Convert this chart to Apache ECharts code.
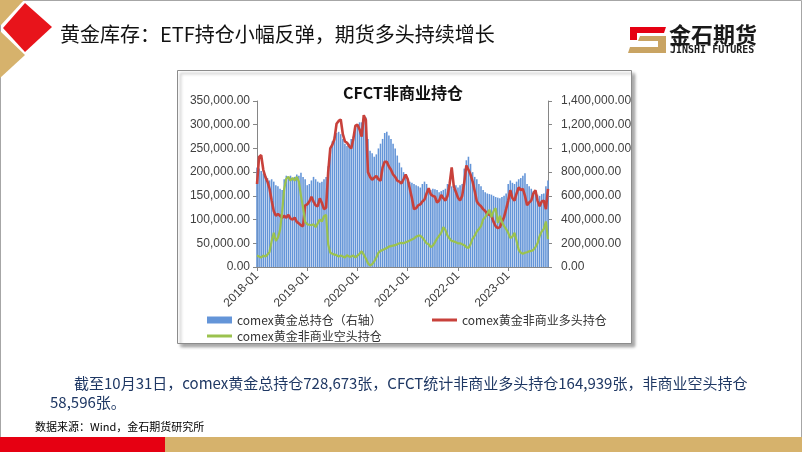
<!DOCTYPE html>
<html>
<head>
<meta charset="utf-8">
<script src="https://cdn.jsdelivr.net/npm/echarts@6/dist/echarts.min.js"></script>
<style>
html, body { margin: 0; padding: 0; background: #fff; }
#main { width: 802px; height: 452px; }
</style>
</head>
<body>
<div id="main"></div>
<script>
// 半月频数据，2018-01 至 2023-10
const dates = [];
for (let y = 2018; y <= 2023; y++) {
	for (let m = 1; m <= 12; m++) {
		if (y === 2023 && m > 10) break;
		const mm = String(m).padStart(2, '0');
		dates.push(y + '-' + mm + '-01', y + '-' + mm + '-16');
	}
}
const yearTicks = ['2018-01', '2019-01', '2020-01', '2021-01', '2022-01', '2023-01'];

// comex黄金总持仓（右轴）
const totalOI = [
	840000, 830000, 810000, 790000, 770000, 750000, 730000, 740000, 720000, 690000,
	680000, 660000, 650000, 740000, 770000, 760000, 770000, 750000, 760000, 780000,
	770000, 795000, 760000, 740000, 690000, 700000, 730000, 760000, 740000, 720000,
	710000, 720000, 740000, 760000, 850000, 990000, 1060000, 1100000, 1130000, 1140000,
	1120000, 1080000, 1040000, 1020000, 1040000, 1080000, 1100000, 1170000, 1200000, 1220000,
	1220000, 1240000, 1260000, 1080000, 980000, 960000, 930000, 950000, 1000000, 1040000,
	1080000, 1130000, 1140000, 1110000, 1080000, 1040000, 1000000, 940000, 880000, 840000,
	800000, 770000, 740000, 720000, 710000, 700000, 690000, 680000, 670000, 700000,
	720000, 700000, 660000, 650000, 660000, 655000, 650000, 630000, 640000, 650000,
	660000, 700000, 690000, 680000, 660000, 690000, 670000, 690000, 700000, 830000,
	900000, 930000, 870000, 800000, 760000, 740000, 700000, 680000, 650000, 630000,
	620000, 615000, 610000, 600000, 590000, 585000, 580000, 590000, 600000, 620000,
	700000, 730000, 710000, 700000, 720000, 740000, 750000, 770000, 790000, 700000,
	680000, 660000, 640000, 620000, 610000, 600000, 615000, 620000, 680000, 728673
];

// comex黄金非商业多头持仓
const longPos = [
	175000, 232000, 236000, 205000, 190000, 180000, 165000, 140000, 118000, 108000,
	112000, 108000, 104000, 108000, 104000, 110000, 102000, 100000, 104000, 95000,
	92000, 88000, 86000, 130000, 132000, 138000, 148000, 138000, 130000, 128000,
	145000, 135000, 122000, 125000, 200000, 250000, 258000, 270000, 302000, 308000,
	311000, 280000, 265000, 262000, 255000, 250000, 270000, 298000, 300000, 290000,
	275000, 320000, 310000, 200000, 190000, 184000, 188000, 192000, 185000, 182000,
	210000, 222000, 222000, 212000, 205000, 195000, 190000, 182000, 180000, 176000,
	185000, 195000, 185000, 165000, 145000, 122000, 124000, 130000, 132000, 138000,
	142000, 155000, 166000, 153000, 150000, 148000, 136000, 140000, 152000, 145000,
	140000, 150000, 175000, 210000, 170000, 158000, 146000, 140000, 150000, 178000,
	214000, 205000, 195000, 180000, 160000, 138000, 132000, 128000, 122000, 118000,
	112000, 110000, 108000, 95000, 86000, 82000, 84000, 95000, 105000, 122000,
	140000, 162000, 145000, 140000, 155000, 168000, 162000, 165000, 150000, 130000,
	136000, 140000, 155000, 162000, 140000, 128000, 138000, 140000, 122000, 164939
];

// comex黄金非商业空头持仓
const shortPos = [
	24000, 22000, 20000, 24000, 22000, 26000, 32000, 55000, 72000, 55000,
	62000, 78000, 115000, 165000, 186000, 190000, 182000, 188000, 182000, 190000,
	180000, 150000, 125000, 95000, 90000, 89000, 88000, 90000, 84000, 92000,
	100000, 96000, 107000, 110000, 48000, 30000, 28000, 26000, 25000, 22000,
	24000, 22000, 20000, 25000, 22000, 22000, 24000, 20000, 24000, 28000,
	33000, 26000, 18000, 8000, 3000, 6000, 12000, 20000, 30000, 34000,
	36000, 38000, 40000, 43000, 44000, 45000, 46000, 48000, 50000, 51000,
	50000, 52000, 54000, 56000, 58000, 60000, 64000, 66000, 66000, 62000,
	56000, 50000, 48000, 42000, 45000, 52000, 60000, 66000, 72000, 84000,
	78000, 66000, 60000, 55000, 54000, 52000, 50000, 50000, 48000, 46000,
	42000, 40000, 48000, 60000, 66000, 75000, 80000, 86000, 100000, 105000,
	112000, 121000, 105000, 118000, 124000, 93000, 108000, 95000, 86000, 80000,
	72000, 61000, 64000, 72000, 55000, 36000, 30000, 28000, 30000, 31000,
	33000, 34000, 36000, 42000, 50000, 65000, 75000, 80000, 96000, 58596
];

const cjk = "'Noto Sans CJK SC', sans-serif";
const numFont = "'Liberation Sans', Arial, sans-serif";
const tan = '#D6B26C';

function fmtNum(v) {
	return v.toLocaleString('en-US', { minimumFractionDigits: 2, maximumFractionDigits: 2 });
}
function isYearStart(idx, val) {
	return yearTicks.indexOf(val.slice(0, 7)) >= 0 && val.slice(8) === '01';
}

const myChart = echarts.init(document.getElementById('main'));

const option = {
	animation: false,
	backgroundColor: '#fff',
	grid: { left: 257, right: 254, top: 101, bottom: 185 },
	legend: [
		{
			data: ['comex黄金总持仓（右轴）'],
			left: 207, top: 314, padding: 0,
			icon: 'rect', itemWidth: 25, itemHeight: 7,
			selectedMode: false,
			textStyle: { fontFamily: cjk, fontSize: 12, color: '#333' },
		},
		{
			data: ['comex黄金非商业多头持仓'],
			left: 432, top: 314, padding: 0,
			icon: 'rect', itemWidth: 25, itemHeight: 3,
			selectedMode: false,
			textStyle: { fontFamily: cjk, fontSize: 12, color: '#333' },
		},
		{
			data: ['comex黄金非商业空头持仓'],
			left: 207, top: 330, padding: 0,
			icon: 'rect', itemWidth: 25, itemHeight: 3,
			selectedMode: false,
			textStyle: { fontFamily: cjk, fontSize: 12, color: '#333' },
		},
	],
	xAxis: {
		type: 'category',
		data: dates,
		boundaryGap: false,
		axisLine: { lineStyle: { color: '#868686' } },
		axisTick: { interval: isYearStart, length: 4, lineStyle: { color: '#868686' } },
		axisLabel: {
			interval: isYearStart,
			rotate: 45,
			margin: 7,
			fontFamily: numFont,
			fontSize: 12,
			color: '#404040',
			formatter: (val) => val.slice(0, 7),
		},
		splitLine: { show: false },
	},
	yAxis: [
		{
			type: 'value',
			min: 0, max: 350000, interval: 50000,
			axisLine: { show: true, lineStyle: { color: '#868686' } },
			axisTick: { show: true, length: 4, lineStyle: { color: '#868686' } },
			axisLabel: { margin: 7, fontFamily: numFont, fontSize: 12, color: '#404040', formatter: fmtNum },
			splitLine: { show: false },
		},
		{
			type: 'value',
			min: 0, max: 1400000, interval: 200000,
			axisLine: { show: true, lineStyle: { color: '#868686' } },
			axisTick: { show: true, length: 4, lineStyle: { color: '#868686' } },
			axisLabel: { margin: 13, fontFamily: numFont, fontSize: 12, color: '#404040', formatter: fmtNum },
			splitLine: { show: false },
		},
	],
	series: [
		{
			name: 'comex黄金总持仓（右轴）',
			type: 'bar',
			yAxisIndex: 1,
			data: totalOI,
			barCategoryGap: '25%',
			itemStyle: { color: '#6495D8' },
		},
		{
			name: 'comex黄金非商业多头持仓',
			type: 'line',
			yAxisIndex: 0,
			data: longPos,
			symbol: 'none',
			lineStyle: { color: '#C8413B', width: 2.6 },
			itemStyle: { color: '#C8413B' },
		},
		{
			name: 'comex黄金非商业空头持仓',
			type: 'line',
			yAxisIndex: 0,
			data: shortPos,
			symbol: 'none',
			lineStyle: { color: '#9BC24E', width: 2.2 },
			itemStyle: { color: '#9BC24E' },
		},
	],
	graphic: [
		// 页面边框
		{ type: 'rect', z: -20, shape: { x: 0.5, y: 0.5, width: 801, height: 451 }, style: { fill: '#fff', stroke: '#a6a6a6' } },
		// 左上角装饰
		{ type: 'polygon', z: -10, shape: { points: [[0, 0], [24, 0], [1, 25], [0, 25]] }, style: { fill: tan } },
		{ type: 'polygon', z: -10, shape: { points: [[0, 31], [25, 55], [0, 78]] }, style: { fill: tan } },
		{ type: 'polygon', z: -10, shape: { points: [[25, 3], [52, 27], [25, 52], [3, 28]] }, style: { fill: '#E8141B' } },
		// 标题
		{
			type: 'text', z: 10, x: 60, y: 34,
			style: { text: '黄金库存：ETF持仓小幅反弹，期货多头持续增长', fontFamily: cjk, fontSize: 20, fill: '#111', textVerticalAlign: 'middle' },
		},
		// logo
		{ type: 'polygon', z: 10, shape: { points: [[630, 27], [666, 27], [664, 33], [637, 33], [637, 40], [630, 40]] }, style: { fill: '#E60012' } },
		{ type: 'polygon', z: 10, shape: { points: [[640, 36], [666, 36], [666, 53], [628, 53], [630, 47], [658, 47], [658, 41], [638, 41]] }, style: { fill: '#C9A463' } },
		{
			type: 'text', z: 10, x: 669, y: 35,
			style: { text: '金石期货', fontFamily: cjk, fontSize: 22, fontWeight: 'bold', fill: '#1a1a1a', textVerticalAlign: 'middle' },
		},
		{
			type: 'text', z: 10, x: 670, y: 50,
			style: { text: 'JINSHI FUTURES', fontFamily: "'DejaVu Sans Mono', monospace", fontSize: 10, fontWeight: 'bold', fill: '#1a1a1a', textVerticalAlign: 'middle' },
		},
		// 图表外框
		{
			type: 'rect', z: -5, shape: { x: 177.5, y: 70.5, width: 454, height: 273 },
			style: { fill: '#fff', stroke: '#8c8c8c', lineWidth: 1, shadowColor: 'rgba(0,0,0,0.35)', shadowOffsetX: 3, shadowOffsetY: 3, shadowBlur: 3 },
		},
		{
			type: 'text', z: 10, x: 403, y: 93,
			style: { text: 'CFCT非商业持仓', fontFamily: cjk, fontSize: 16, fontWeight: 'bold', fill: '#111', textAlign: 'center', textVerticalAlign: 'middle' },
		},
		// 说明文字
		{
			type: 'text', z: 10, x: 74, y: 383,
			style: { text: '截至10月31日，comex黄金总持仓728,673张，CFCT统计非商业多头持仓164,939张，非商业空头持仓', fontFamily: cjk, fontSize: 15, fill: '#1F3864', textVerticalAlign: 'middle' },
		},
		{
			type: 'text', z: 10, x: 50, y: 402,
			style: { text: '58,596张。', fontFamily: cjk, fontSize: 15, fill: '#1F3864', textVerticalAlign: 'middle' },
		},
		{
			type: 'text', z: 10, x: 35, y: 427,
			style: { text: '数据来源：Wind，金石期货研究所', fontFamily: cjk, fontSize: 11, fill: '#000', textVerticalAlign: 'middle' },
		},
		// 底部色条
		{ type: 'rect', z: 10, shape: { x: 0, y: 437, width: 165, height: 15 }, style: { fill: '#E60012' } },
		{ type: 'rect', z: 10, shape: { x: 165, y: 437, width: 637, height: 15 }, style: { fill: tan } },
	],
};

myChart.setOption(option);
</script>
</body>
</html>
